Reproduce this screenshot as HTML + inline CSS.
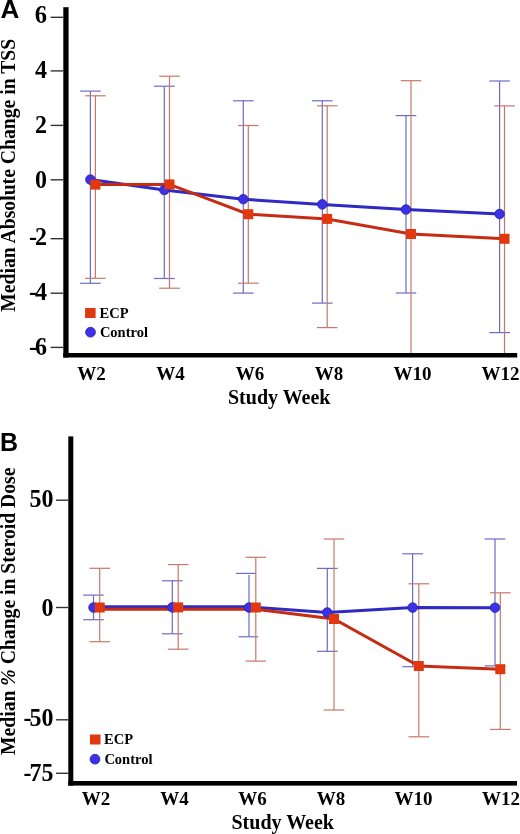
<!DOCTYPE html>
<html><head><meta charset="utf-8"><style>
html,body{margin:0;padding:0;background:#fff;width:520px;height:834px;overflow:hidden}
svg{display:block}
text{filter:grayscale(1)}
</style></head><body>
<svg width="520" height="834" viewBox="0 0 520 834">
<rect width="520" height="834" fill="#fff"/>
<line x1="90.4" y1="91.1" x2="90.4" y2="283.3" stroke="#6c6cc6" stroke-width="1.2"/>
<line x1="80.1" y1="91.1" x2="100.7" y2="91.1" stroke="#6c6cc6" stroke-width="1.2"/>
<line x1="80.1" y1="283.3" x2="100.7" y2="283.3" stroke="#6c6cc6" stroke-width="1.2"/>
<line x1="164.3" y1="86.2" x2="164.3" y2="278.5" stroke="#6c6cc6" stroke-width="1.2"/>
<line x1="154.0" y1="86.2" x2="174.6" y2="86.2" stroke="#6c6cc6" stroke-width="1.2"/>
<line x1="154.0" y1="278.5" x2="174.6" y2="278.5" stroke="#6c6cc6" stroke-width="1.2"/>
<line x1="243.3" y1="100.8" x2="243.3" y2="293.1" stroke="#6c6cc6" stroke-width="1.2"/>
<line x1="233.0" y1="100.8" x2="253.6" y2="100.8" stroke="#6c6cc6" stroke-width="1.2"/>
<line x1="233.0" y1="293.1" x2="253.6" y2="293.1" stroke="#6c6cc6" stroke-width="1.2"/>
<line x1="322.3" y1="100.8" x2="322.3" y2="303.1" stroke="#6c6cc6" stroke-width="1.2"/>
<line x1="312.0" y1="100.8" x2="332.6" y2="100.8" stroke="#6c6cc6" stroke-width="1.2"/>
<line x1="312.0" y1="303.1" x2="332.6" y2="303.1" stroke="#6c6cc6" stroke-width="1.2"/>
<line x1="406" y1="115.6" x2="406" y2="293" stroke="#6c6cc6" stroke-width="1.2"/>
<line x1="395.7" y1="115.6" x2="416.3" y2="115.6" stroke="#6c6cc6" stroke-width="1.2"/>
<line x1="395.7" y1="293" x2="416.3" y2="293" stroke="#6c6cc6" stroke-width="1.2"/>
<line x1="499.6" y1="81" x2="499.6" y2="332.6" stroke="#6c6cc6" stroke-width="1.2"/>
<line x1="489.3" y1="81" x2="509.9" y2="81" stroke="#6c6cc6" stroke-width="1.2"/>
<line x1="489.3" y1="332.6" x2="509.9" y2="332.6" stroke="#6c6cc6" stroke-width="1.2"/>
<line x1="95.4" y1="95.8" x2="95.4" y2="278.3" stroke="#c6786a" stroke-width="1.2"/>
<line x1="85.1" y1="95.8" x2="105.7" y2="95.8" stroke="#c6786a" stroke-width="1.2"/>
<line x1="85.1" y1="278.3" x2="105.7" y2="278.3" stroke="#c6786a" stroke-width="1.2"/>
<line x1="169.5" y1="76.2" x2="169.5" y2="288.2" stroke="#c6786a" stroke-width="1.2"/>
<line x1="159.2" y1="76.2" x2="179.8" y2="76.2" stroke="#c6786a" stroke-width="1.2"/>
<line x1="159.2" y1="288.2" x2="179.8" y2="288.2" stroke="#c6786a" stroke-width="1.2"/>
<line x1="248.3" y1="125.5" x2="248.3" y2="283.2" stroke="#c6786a" stroke-width="1.2"/>
<line x1="238.0" y1="125.5" x2="258.6" y2="125.5" stroke="#c6786a" stroke-width="1.2"/>
<line x1="238.0" y1="283.2" x2="258.6" y2="283.2" stroke="#c6786a" stroke-width="1.2"/>
<line x1="327.2" y1="105.8" x2="327.2" y2="327.6" stroke="#c6786a" stroke-width="1.2"/>
<line x1="316.9" y1="105.8" x2="337.5" y2="105.8" stroke="#c6786a" stroke-width="1.2"/>
<line x1="316.9" y1="327.6" x2="337.5" y2="327.6" stroke="#c6786a" stroke-width="1.2"/>
<line x1="411" y1="80.7" x2="411" y2="353" stroke="#c6786a" stroke-width="1.2"/>
<line x1="400.7" y1="80.7" x2="421.3" y2="80.7" stroke="#c6786a" stroke-width="1.2"/>
<line x1="504.5" y1="105.9" x2="504.5" y2="353" stroke="#c6786a" stroke-width="1.2"/>
<line x1="494.2" y1="105.9" x2="514.8" y2="105.9" stroke="#c6786a" stroke-width="1.2"/>
<polyline fill="none" stroke="#2e2ac2" stroke-width="3" points="90.4,179.6 164.3,190 243.3,199.2 322.3,204.4 406,209.5 499.6,214"/>
<polyline fill="none" stroke="#c62c14" stroke-width="3" points="95.4,184.6 169.5,184.4 248.3,214.2 327.2,218.9 411,234 504.5,238.8"/>
<circle cx="90.4" cy="179.6" r="4.8" fill="#3a32e4" stroke="#2a24a8" stroke-width="0.8"/>
<circle cx="164.3" cy="190" r="4.8" fill="#3a32e4" stroke="#2a24a8" stroke-width="0.8"/>
<circle cx="243.3" cy="199.2" r="4.8" fill="#3a32e4" stroke="#2a24a8" stroke-width="0.8"/>
<circle cx="322.3" cy="204.4" r="4.8" fill="#3a32e4" stroke="#2a24a8" stroke-width="0.8"/>
<circle cx="406" cy="209.5" r="4.8" fill="#3a32e4" stroke="#2a24a8" stroke-width="0.8"/>
<circle cx="499.6" cy="214" r="4.8" fill="#3a32e4" stroke="#2a24a8" stroke-width="0.8"/>
<rect x="90.4" y="179.6" width="10" height="10" fill="#e2380f"/>
<rect x="164.5" y="179.4" width="10" height="10" fill="#e2380f"/>
<rect x="243.3" y="209.2" width="10" height="10" fill="#e2380f"/>
<rect x="322.2" y="213.9" width="10" height="10" fill="#e2380f"/>
<rect x="406" y="229" width="10" height="10" fill="#e2380f"/>
<rect x="499.5" y="233.8" width="10" height="10" fill="#e2380f"/>
<rect x="63.3" y="7.2" width="5.3" height="350.3" fill="#000"/>
<rect x="63.3" y="353" width="453.9" height="4.5" fill="#000"/>
<line x1="50.6" y1="17.3" x2="63.3" y2="17.3" stroke="#333" stroke-width="1.4"/>
<text transform="translate(47.1,23) scale(1,1.03)" text-anchor="end" font-family='"Liberation Serif", serif' font-weight="bold" font-size="24.5">6</text>
<line x1="50.6" y1="70.9" x2="63.3" y2="70.9" stroke="#333" stroke-width="1.4"/>
<text transform="translate(47.1,78) scale(1,1.03)" text-anchor="end" font-family='"Liberation Serif", serif' font-weight="bold" font-size="24">4</text>
<line x1="50.6" y1="125.4" x2="63.3" y2="125.4" stroke="#333" stroke-width="1.4"/>
<text transform="translate(47.1,133) scale(1,1.03)" text-anchor="end" font-family='"Liberation Serif", serif' font-weight="bold" font-size="24">2</text>
<line x1="50.6" y1="179.8" x2="63.3" y2="179.8" stroke="#333" stroke-width="1.4"/>
<text transform="translate(47.1,188) scale(1,1.03)" text-anchor="end" font-family='"Liberation Serif", serif' font-weight="bold" font-size="24">0</text>
<line x1="50.6" y1="238.7" x2="63.3" y2="238.7" stroke="#333" stroke-width="1.4"/>
<text transform="translate(47.1,245) scale(1,1.03)" text-anchor="end" font-family='"Liberation Serif", serif' font-weight="bold" font-size="24">2</text>
<text transform="translate(37.1,245) scale(1,1.03)" text-anchor="end" font-family='"Liberation Serif", serif' font-weight="bold" font-size="24">-</text>
<line x1="50.6" y1="293.2" x2="63.3" y2="293.2" stroke="#333" stroke-width="1.4"/>
<text transform="translate(47.1,300) scale(1,1.03)" text-anchor="end" font-family='"Liberation Serif", serif' font-weight="bold" font-size="24">4</text>
<text transform="translate(37.1,300) scale(1,1.03)" text-anchor="end" font-family='"Liberation Serif", serif' font-weight="bold" font-size="24">-</text>
<line x1="50.6" y1="347.4" x2="63.3" y2="347.4" stroke="#333" stroke-width="1.4"/>
<text transform="translate(47.1,355) scale(1,1.03)" text-anchor="end" font-family='"Liberation Serif", serif' font-weight="bold" font-size="24">6</text>
<text transform="translate(37.1,355) scale(1,1.03)" text-anchor="end" font-family='"Liberation Serif", serif' font-weight="bold" font-size="24">-</text>
<text x="91.4" y="379.5" text-anchor="middle" font-family='"Liberation Serif", serif' font-weight="bold" font-size="19">W2</text>
<text x="170.5" y="379.5" text-anchor="middle" font-family='"Liberation Serif", serif' font-weight="bold" font-size="19">W4</text>
<text x="250" y="379.5" text-anchor="middle" font-family='"Liberation Serif", serif' font-weight="bold" font-size="19">W6</text>
<text x="328.9" y="379.5" text-anchor="middle" font-family='"Liberation Serif", serif' font-weight="bold" font-size="19">W8</text>
<text x="412.4" y="379.5" text-anchor="middle" font-family='"Liberation Serif", serif' font-weight="bold" font-size="19">W10</text>
<text x="500.5" y="379.5" text-anchor="middle" font-family='"Liberation Serif", serif' font-weight="bold" font-size="19">W12</text>
<text x="228" y="403.8" font-family='"Liberation Serif", serif' font-weight="bold" font-size="20">Study Week</text>
<text transform="translate(14.9,311.8) rotate(-90)" x="0" y="0" textLength="273" lengthAdjust="spacingAndGlyphs" font-family='"Liberation Serif", serif' font-weight="bold" font-size="20">Median Absolute Change in TSS</text>
<rect x="85.1" y="308" width="10.5" height="10" fill="#e2380f"/>
<text x="99.6" y="317.8" font-family='"Liberation Serif", serif' font-weight="bold" font-size="14.5">ECP</text>
<circle cx="90.5" cy="332.2" r="4.9" fill="#3a32e4" stroke="#2a24a8" stroke-width="0.8"/>
<text x="99.9" y="337.4" font-family='"Liberation Serif", serif' font-weight="bold" font-size="14.5">Control</text>
<text x="0.4" y="17.8" font-family='"Liberation Sans", sans-serif' font-weight="bold" font-size="26">A</text>
<line x1="93.5" y1="595.1" x2="93.5" y2="619.7" stroke="#6c6cc6" stroke-width="1.2"/>
<line x1="83.2" y1="595.1" x2="103.8" y2="595.1" stroke="#6c6cc6" stroke-width="1.2"/>
<line x1="83.2" y1="619.7" x2="103.8" y2="619.7" stroke="#6c6cc6" stroke-width="1.2"/>
<line x1="172.3" y1="580.8" x2="172.3" y2="633.8" stroke="#6c6cc6" stroke-width="1.2"/>
<line x1="162.0" y1="580.8" x2="182.6" y2="580.8" stroke="#6c6cc6" stroke-width="1.2"/>
<line x1="162.0" y1="633.8" x2="182.6" y2="633.8" stroke="#6c6cc6" stroke-width="1.2"/>
<line x1="249" y1="575" x2="249" y2="636.8" stroke="#6c6cc6" stroke-width="1.2"/>
<line x1="236" y1="573.4" x2="256" y2="573.4" stroke="#6c6cc6" stroke-width="1.2"/>
<line x1="238.6" y1="636.8" x2="258.2" y2="636.8" stroke="#6c6cc6" stroke-width="1.2"/>
<line x1="327.3" y1="568.4" x2="327.3" y2="651.3" stroke="#6c6cc6" stroke-width="1.2"/>
<line x1="317.0" y1="568.4" x2="337.6" y2="568.4" stroke="#6c6cc6" stroke-width="1.2"/>
<line x1="317.0" y1="651.3" x2="337.6" y2="651.3" stroke="#6c6cc6" stroke-width="1.2"/>
<line x1="412.6" y1="553.8" x2="412.6" y2="666.7" stroke="#6c6cc6" stroke-width="1.2"/>
<line x1="402.3" y1="553.8" x2="422.9" y2="553.8" stroke="#6c6cc6" stroke-width="1.2"/>
<line x1="402.3" y1="666.7" x2="422.9" y2="666.7" stroke="#6c6cc6" stroke-width="1.2"/>
<line x1="495" y1="539" x2="495" y2="665.9" stroke="#6c6cc6" stroke-width="1.2"/>
<line x1="484.7" y1="539" x2="505.3" y2="539" stroke="#6c6cc6" stroke-width="1.2"/>
<line x1="484.7" y1="665.9" x2="505.3" y2="665.9" stroke="#6c6cc6" stroke-width="1.2"/>
<line x1="99.7" y1="568.3" x2="99.7" y2="641.7" stroke="#c6786a" stroke-width="1.2"/>
<line x1="89.4" y1="568.3" x2="110.0" y2="568.3" stroke="#c6786a" stroke-width="1.2"/>
<line x1="89.4" y1="641.7" x2="110.0" y2="641.7" stroke="#c6786a" stroke-width="1.2"/>
<line x1="178.2" y1="564.6" x2="178.2" y2="649.2" stroke="#c6786a" stroke-width="1.2"/>
<line x1="167.9" y1="564.6" x2="188.5" y2="564.6" stroke="#c6786a" stroke-width="1.2"/>
<line x1="167.9" y1="649.2" x2="188.5" y2="649.2" stroke="#c6786a" stroke-width="1.2"/>
<line x1="255.8" y1="557.3" x2="255.8" y2="661.1" stroke="#c6786a" stroke-width="1.2"/>
<line x1="245.5" y1="557.3" x2="266.1" y2="557.3" stroke="#c6786a" stroke-width="1.2"/>
<line x1="245.5" y1="661.1" x2="266.1" y2="661.1" stroke="#c6786a" stroke-width="1.2"/>
<line x1="334" y1="539" x2="334" y2="710" stroke="#c6786a" stroke-width="1.2"/>
<line x1="323.7" y1="539" x2="344.3" y2="539" stroke="#c6786a" stroke-width="1.2"/>
<line x1="323.7" y1="710" x2="344.3" y2="710" stroke="#c6786a" stroke-width="1.2"/>
<line x1="418.8" y1="583.8" x2="418.8" y2="736.8" stroke="#c6786a" stroke-width="1.2"/>
<line x1="408.5" y1="583.8" x2="429.1" y2="583.8" stroke="#c6786a" stroke-width="1.2"/>
<line x1="408.5" y1="736.8" x2="429.1" y2="736.8" stroke="#c6786a" stroke-width="1.2"/>
<line x1="500.3" y1="592.8" x2="500.3" y2="729.4" stroke="#c6786a" stroke-width="1.2"/>
<line x1="490.0" y1="592.8" x2="510.6" y2="592.8" stroke="#c6786a" stroke-width="1.2"/>
<line x1="490.0" y1="729.4" x2="510.6" y2="729.4" stroke="#c6786a" stroke-width="1.2"/>
<polyline fill="none" stroke="#2e2ac2" stroke-width="3" points="93.5,606.8 172.3,606.8 249,606.8 327.3,612.5 412.6,607.6 495,607.7"/>
<polyline fill="none" stroke="#c62c14" stroke-width="3" points="99.7,609.3 178.2,609.3 255.8,609.3 334,619 418.8,666 500.3,669.2"/>
<circle cx="93.5" cy="607.5" r="4.8" fill="#3a32e4" stroke="#2a24a8" stroke-width="0.8"/>
<circle cx="172.3" cy="607.4" r="4.8" fill="#3a32e4" stroke="#2a24a8" stroke-width="0.8"/>
<circle cx="249" cy="607.5" r="4.8" fill="#3a32e4" stroke="#2a24a8" stroke-width="0.8"/>
<circle cx="327.3" cy="612.5" r="4.8" fill="#3a32e4" stroke="#2a24a8" stroke-width="0.8"/>
<circle cx="412.6" cy="607.6" r="4.8" fill="#3a32e4" stroke="#2a24a8" stroke-width="0.8"/>
<circle cx="495" cy="607.7" r="4.8" fill="#3a32e4" stroke="#2a24a8" stroke-width="0.8"/>
<rect x="94.7" y="602.5" width="10" height="10" fill="#e2380f"/>
<rect x="173.2" y="602.4" width="10" height="10" fill="#e2380f"/>
<rect x="250.8" y="602.5" width="10" height="10" fill="#e2380f"/>
<rect x="329" y="614" width="10" height="10" fill="#e2380f"/>
<rect x="413.8" y="661" width="10" height="10" fill="#e2380f"/>
<rect x="495.3" y="664.2" width="10" height="10" fill="#e2380f"/>
<rect x="68.3" y="436.4" width="5.0" height="349.2" fill="#000"/>
<rect x="68.3" y="781" width="448.7" height="4.6" fill="#000"/>
<line x1="56" y1="500.2" x2="68.3" y2="500.2" stroke="#333" stroke-width="1.4"/>
<text transform="translate(53.5,507) scale(1,1.03)" text-anchor="end" font-family='"Liberation Serif", serif' font-weight="bold" font-size="24">50</text>
<line x1="56" y1="607.5" x2="68.3" y2="607.5" stroke="#333" stroke-width="1.4"/>
<text transform="translate(53.5,616) scale(1,1.03)" text-anchor="end" font-family='"Liberation Serif", serif' font-weight="bold" font-size="24">0</text>
<line x1="56" y1="719.8" x2="68.3" y2="719.8" stroke="#333" stroke-width="1.4"/>
<text transform="translate(53.5,726) scale(1,1.03)" text-anchor="end" font-family='"Liberation Serif", serif' font-weight="bold" font-size="24">50</text>
<text transform="translate(31.5,726) scale(1,1.03)" text-anchor="end" font-family='"Liberation Serif", serif' font-weight="bold" font-size="24">-</text>
<line x1="56" y1="773.3" x2="68.3" y2="773.3" stroke="#333" stroke-width="1.4"/>
<text transform="translate(53.5,780.5) scale(1,1.03)" text-anchor="end" font-family='"Liberation Serif", serif' font-weight="bold" font-size="24">75</text>
<text transform="translate(31.5,780.5) scale(1,1.03)" text-anchor="end" font-family='"Liberation Serif", serif' font-weight="bold" font-size="24">-</text>
<text x="96" y="805" text-anchor="middle" font-family='"Liberation Serif", serif' font-weight="bold" font-size="19">W2</text>
<text x="174.5" y="805" text-anchor="middle" font-family='"Liberation Serif", serif' font-weight="bold" font-size="19">W4</text>
<text x="252.6" y="805" text-anchor="middle" font-family='"Liberation Serif", serif' font-weight="bold" font-size="19">W6</text>
<text x="331" y="805" text-anchor="middle" font-family='"Liberation Serif", serif' font-weight="bold" font-size="19">W8</text>
<text x="413.6" y="805" text-anchor="middle" font-family='"Liberation Serif", serif' font-weight="bold" font-size="19">W10</text>
<text x="501" y="805" text-anchor="middle" font-family='"Liberation Serif", serif' font-weight="bold" font-size="19">W12</text>
<text x="231.5" y="829.2" font-family='"Liberation Serif", serif' font-weight="bold" font-size="20">Study Week</text>
<text transform="translate(14.6,755) rotate(-90)" x="0" y="0" textLength="287.5" lengthAdjust="spacingAndGlyphs" font-family='"Liberation Serif", serif' font-weight="bold" font-size="20">Median <tspan font-style="italic">%</tspan> Change in Steroid Dose</text>
<rect x="90" y="734.5" width="10.5" height="10" fill="#e2380f"/>
<text x="104.1" y="744.3" font-family='"Liberation Serif", serif' font-weight="bold" font-size="14.5">ECP</text>
<circle cx="95" cy="759.2" r="4.9" fill="#3a32e4" stroke="#2a24a8" stroke-width="0.8"/>
<text x="104.4" y="763.8" font-family='"Liberation Serif", serif' font-weight="bold" font-size="14.5">Control</text>
<text x="0" y="450.5" font-family='"Liberation Sans", sans-serif' font-weight="bold" font-size="25">B</text>
</svg>
</body></html>
